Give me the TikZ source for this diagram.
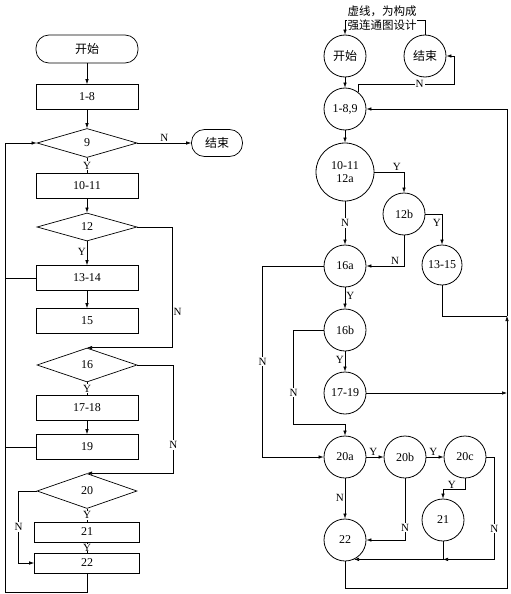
\documentclass[tikz,border=0pt]{standalone}
\usepackage{fontspec}
\setmainfont{Liberation Serif}
\newfontfamily\cjk{Noto Sans CJK SC}
\usetikzlibrary{shapes.geometric, arrows.meta, positioning, calc}

\tikzset{
  blk/.style={draw, line width=0.7pt, minimum width=102pt, minimum height=25pt, inner sep=0pt, font=\fontsize{12}{12}\selectfont},
  term/.style={draw, line width=0.7pt, rounded corners=13pt, minimum width=102pt, minimum height=28pt, inner sep=0pt, font=\cjk\fontsize{12}{12}\selectfont},
  cond/.style={draw, diamond, line width=0.7pt, minimum width=100pt, minimum height=30pt, inner sep=0pt, font=\fontsize{12}{12}\selectfont},
  state/.style={draw, circle, line width=0.8pt, minimum size=42pt, inner sep=0pt, font=\fontsize{12}{13.5}\selectfont},
  lab/.style={font=\fontsize{11}{11}\selectfont, inner sep=1pt},
  cut/.style={lab, fill=white},
}

\begin{document}
\begin{tikzpicture}[node distance=44pt, >={Latex[length=5pt,width=3.5pt]}, line width=0.6pt]
\useasboundingbox (0,0) rectangle (511pt,-594pt);

% flowchart
\node[term] (start) at (87pt,-49pt) {开始};
\node[blk, below of=start, yshift=-4pt] (b18) {1-8};
\node[cond, below of=b18, yshift=-2pt, minimum height=29pt] (c9) {9};
\node[blk, below of=c9, yshift=1pt] (b1011) {10-11};
\node[cond, below of=b1011, yshift=3pt, minimum height=28pt] (c12) {12};
\node[blk, below of=c12, yshift=-7pt] (b1314) {13-14};
\node[blk, below of=b1314, yshift=1pt] (b15) {15};
\node[cond, below of=b15, minimum height=34pt] (c16) {16};
\node[blk, below of=c16, yshift=1pt] (b1718) {17-18};
\node[blk, below of=b1718, yshift=5pt] (b19) {19};
\node[cond, below of=b19, minimum height=35pt] (c20) {20};
\node[blk, below of=c20, yshift=3pt, minimum width=105pt, minimum height=20pt] (b21) {21};
\node[blk, below of=b21, yshift=13pt, minimum width=105pt, minimum height=20pt] (b22) {22};
\node[term, right of=c9, xshift=86pt, minimum width=51pt, minimum height=27pt] (stop) {结束};

\draw[->] (start) -- (b18);
\draw[->] (b18) -- (c9);
\draw[->] (c9) -- node[lab, above] {N} (stop);
\draw (c9) -- node[cut] {Y} (b1011);
\draw[->] (b1011) -- (c12);
\draw[->] (c12) -- node[lab, left, pos=0.44] {Y} (b1314);
\draw[->] (b1314) -- (b15);
\draw[->] (c12.east) -- ++(35pt,0) |- node[lab, right, pos=0.35] {N} (c16.north);
\draw (c16) -- node[cut] {Y} (b1718);
\draw[->] (b1718) -- (b19);
\draw[->] (c16.east) -- ++(36pt,0) |- node[cut, pos=0.37] {N} (c20.north);
\draw (c20) -- node[cut] {Y} (b21);
\draw (b21) -- node[cut, inner sep=0.3pt] {Y} (b22);
\draw[->] (c20.west) -- ++(-18pt,0) |- node[cut, pos=0.25] {N} (b22.west);
\draw[->] (b22.south) -- ++(0,-19pt) -| ([xshift=-31.5pt]c9.west) -- (c9.west);
\draw (b1314.west) -- ++(-31pt,0);
\draw (b19.west) -- ++(-31pt,0);

% graph
\node[state, right of=start, xshift=214pt, yshift=-7pt, font=\cjk\fontsize{12}{12}\selectfont] (s0) {开始};
\node[state, right of=s0, xshift=36pt, font=\cjk\fontsize{12}{12}\selectfont] (s1) {结束};
\node[state, below of=s0, yshift=-9pt] (s189) {1-8,9};
\node[state, below of=s189, yshift=-19pt, minimum size=58pt, align=center] (s1011) {10-11\\12a};
\node[state, right of=s1011, xshift=15pt, yshift=-42pt] (s12b) {12b};
\node[state, right of=s12b, xshift=-6pt, yshift=-51pt, minimum size=40pt] (s1315) {13-15};
\node[state, below of=s1011, yshift=-50pt] (s16a) {16a};
\node[state, below of=s16a, yshift=-20pt] (s16b) {16b};
\node[state, below of=s16b, yshift=-19pt] (s1719) {17-19};
\node[state, below of=s1719, yshift=-20pt] (s20a) {20a};
\node[state, right of=s20a, xshift=16pt] (s20b) {20b};
\node[state, right of=s20b, xshift=16pt] (s20c) {20c};
\node[state, below of=s20c, xshift=-22pt, yshift=-19pt] (s21) {21};
\node[state, below of=s20a, yshift=-39pt] (s22) {22};
\coordinate[below of=s1315, xshift=65pt, yshift=-7pt] (rj);
\coordinate (jn) at (s21.south |- s22.-65);

\draw[->] (s1.north) -- ++(0,14pt) -| (s0.north);
\draw[->] (s0) -- (s189);
\draw[->] (s189.53) -- ++(0,8pt) -| node[cut, pos=0.32] {N} ([xshift=8pt]s1.east) -- (s1.east);
\draw[->] (s189) -- (s1011);
\draw[->] (s1011.east) -| node[lab, above, pos=0.38] {Y} (s12b.north);
\draw[->] (s12b.east) -| node[lab, left, pos=0.65] {Y} (s1315.north);
\draw[->] (s12b.south) |- node[lab, above, pos=0.62] {N} (s16a.east);
\draw[->] (s1011) -- node[cut] {N} (s16a);
\draw[->] (s16a.west) -- ++(-61pt,0) |- node[cut, pos=0.25] {N} (s20a.west);
\draw[->] (s16a) -- node[lab, right, pos=0.4] {Y} (s16b);
\draw[->] (s16b.west) -- ++(-30pt,0) |- node[cut, pos=0.33] {N} ([yshift=11pt]s20a.north) -- (s20a.north);
\draw[->] (s16b) -- node[lab, left, pos=0.43] {Y} (s1719);
\draw[->] (s1719) -- (s1719 -| rj);
\draw[->] (s20a) -- node[lab, above, pos=0.4] {Y} (s20b);
\draw[->] (s20b) -- node[lab, above, pos=0.4] {Y} (s20c);
\draw[->] (s20c.south) |- node[lab, above, pos=0.8] {Y} ([yshift=9pt]s21.north) -- (s21.north);
\draw[->] (s20a) -- node[lab, left, pos=0.49] {N} (s22);
\draw[->] (s20b.south) |- node[cut, pos=0.4] {N} (s22.east);
\draw[->] (s20c.east) -- ++(8pt,0) |- node[cut, pos=0.35] {N} (jn);
\draw[->] (s21.south) |- (s22.-65);
\draw[->] (s22.south) -- ++(0,-27pt) -| (rj);
\draw (s1315.south) |- (rj);
\draw[->] (rj) |- (s189.east);

\node[fill=white, inner sep=0.5pt, align=center, font=\cjk\fontsize{11.5}{14}\selectfont, right of=s0, xshift=-7pt, yshift=38pt] (note) {虚线，为构成\\强连通图设计};
\end{tikzpicture}
\end{document}
